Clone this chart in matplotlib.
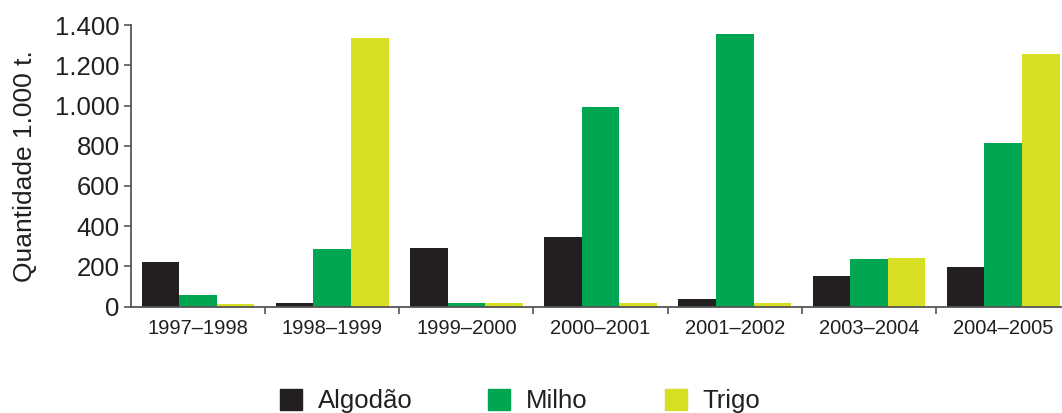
import numpy as np
import matplotlib.pyplot as plt
from matplotlib.patches import Patch

# values in 1.000 t
safras = ['1997–1998', '1998–1999', '1999–2000', '2000–2001',
          '2001–2002', '2003–2004', '2004–2005']
algodao = [222, 18, 292, 346, 38, 152, 197]
milho = [58, 287, 18, 993, 1356, 237, 813]
trigo = [13, 1334, 18, 18, 18, 242, 1254]
yticks = [0, 200, 400, 600, 800, 1000, 1200, 1400]
ytick_labels = ['0', '200', '400', '600', '800', '1.000', '1.200', '1.400']

cores = ['#231f20', '#00a651', '#d7df23']
nomes = ['Algodão', 'Milho', 'Trigo']

plt.rcParams['font.family'] = ['Liberation Sans', 'DejaVu Sans']

fig = plt.figure(figsize=(10.62, 4.13), dpi=100)
ax = fig.add_axes([0.1232, 0.2574, 0.8846, 0.682])

x = np.arange(len(safras))
w = 0.28
for k, serie in enumerate([algodao, milho, trigo]):
    ax.bar(x + (k - 1) * w, serie, width=w, color=cores[k], linewidth=0)

ax.set_xlim(-0.5, len(safras) - 0.5)
ax.set_ylim(0, 1400)
ax.set_yticks(yticks)
ax.set_yticklabels(ytick_labels, fontsize=18.5, color='#231f20')
ax.set_xticks(x)
ax.set_xticklabels(safras, fontsize=14.5, color='#231f20')
ax.tick_params(axis='x', length=0, pad=9)
ax.set_xticks(np.arange(len(safras)) + 0.5, minor=True)
ax.tick_params(axis='x', which='minor', length=5, width=1.2, color='#555555')
ax.tick_params(axis='y', length=5, width=1.2, color='#555555', pad=3)
ax.set_ylabel('Quantidade 1.000 t.', fontsize=19, color='#231f20', labelpad=13)

for s in ['top', 'right']:
    ax.spines[s].set_visible(False)
for s in ['left', 'bottom']:
    ax.spines[s].set_color('#555555')
    ax.spines[s].set_linewidth(1.3)

# one legend per entry so each sits where it is in the reference
pos = [280, 488, 665]
for k in range(3):
    fig.legend(handles=[Patch(color=cores[k], label=nomes[k])],
               loc='upper left', bbox_to_anchor=(pos[k] / 1062, 1 - 389 / 413),
               frameon=False, fontsize=18.5, borderpad=0, borderaxespad=0,
               handlelength=0.86, handleheight=0.86, handletextpad=0.6,
               labelcolor='#231f20')

fig.savefig('out.png', dpi=100)
